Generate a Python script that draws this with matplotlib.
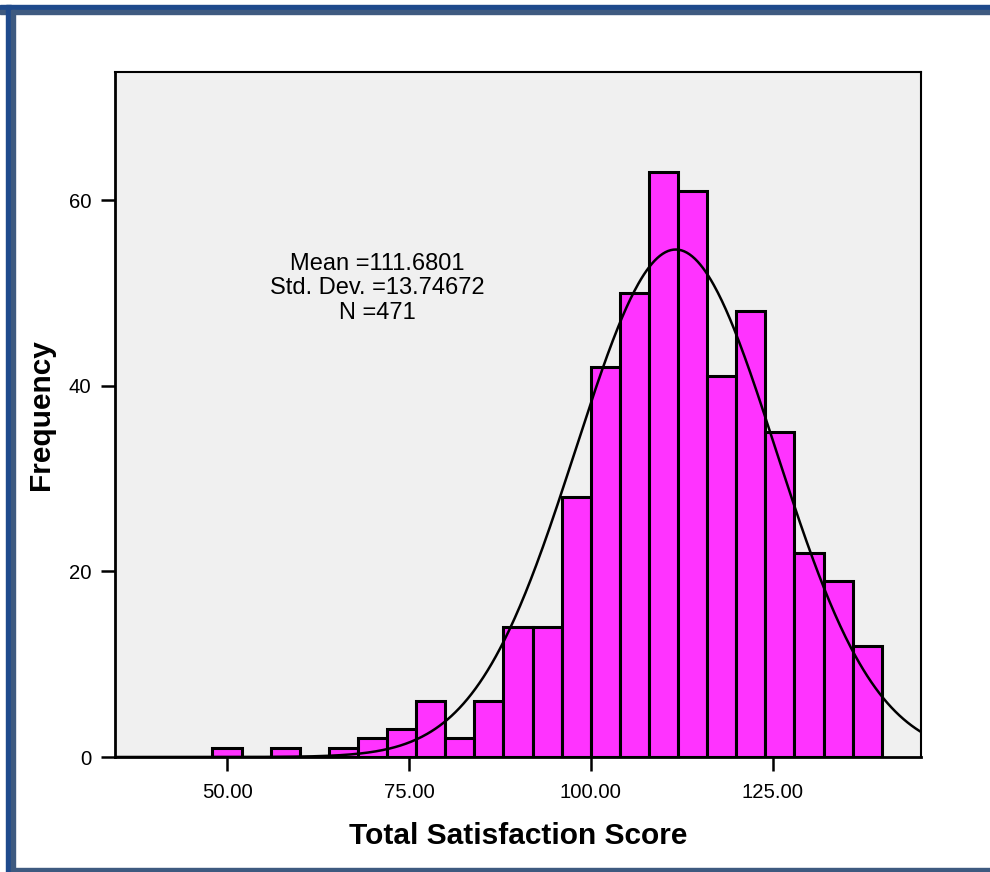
import numpy as np
import matplotlib
matplotlib.use("Agg")
import matplotlib.pyplot as plt
from matplotlib.patches import Rectangle

plt.rcParams['font.family'] = ['Liberation Sans', 'DejaVu Sans']

# Histogram bins (width 4) and counts
bin_edges = [48, 52, 56, 60, 64, 68, 72, 76, 80, 84, 88, 92, 96, 100,
             104, 108, 112, 116, 120, 124, 128, 132, 136, 140]
counts = [1, 0, 1, 0, 1, 2, 3, 6, 2, 6, 14, 14, 28, 42,
          50, 63, 61, 41, 48, 35, 22, 19, 12]

mean_val = 111.6801
std_val = 13.74672
n_val = 471

x_ticks = [50, 75, 100, 125]
x_tick_labels = ["50.00", "75.00", "100.00", "125.00"]
y_ticks = [0, 20, 40, 60]

fig = plt.figure(figsize=(9.9, 8.72), dpi=100)
W, H = 990, 872

# Outer frame: blue band with slate inner edge
def band(x0, y0, x1, y1, color):
    fig.patches.append(Rectangle((x0 / W, 1 - y1 / H), (x1 - x0) / W, (y1 - y0) / H,
                                 transform=fig.transFigure, color=color, zorder=0))

band(0, 5, W, 10, '#1F4A8C')
band(0, 10, W, 14, '#3E5A80')
band(6, 5, 11, H, '#1F4A8C')
band(11, 10, 15, H, '#3E5A80')
band(11, 868, W, H, '#3E5A80')

ax = fig.add_axes([115 / W, 1 - 757 / H, (921 - 115) / W, (757 - 72) / H])
ax.set_facecolor('#F0F0F0')

widths = np.diff(bin_edges)
ax.bar(bin_edges[:-1], counts, width=widths, align='edge',
       color='#FF33FF', edgecolor='black', linewidth=2.2, zorder=2)

xmin, xmax = 34.6, 145.4
ax.set_xlim(xmin, xmax)
ax.set_ylim(0, 73.8)

# Normal curve scaled to counts
xs = np.linspace(xmin, xmax, 600)
bw = bin_edges[1] - bin_edges[0]
ys = n_val * bw / (std_val * np.sqrt(2 * np.pi)) * np.exp(-0.5 * ((xs - mean_val) / std_val) ** 2)
ax.plot(xs, ys, color='black', linewidth=1.8, zorder=3)

ax.set_xticks(x_ticks)
ax.set_xticklabels(x_tick_labels)
ax.set_yticks(y_ticks)
ax.tick_params(axis='both', direction='out', length=10, width=1.8, labelsize=14.6, pad=7)
ax.tick_params(axis='x', pad=9)

for side in ['left', 'bottom', 'top', 'right']:
    ax.spines[side].set_linewidth(1.5)
ax.spines['left'].set_linewidth(2.0)
ax.spines['bottom'].set_linewidth(2.0)

ax.set_xlabel('Total Satisfaction Score', fontsize=21.5, fontweight='bold', labelpad=14)
ax.set_ylabel('Frequency', fontsize=21.5, fontweight='bold', labelpad=10)

ax.text(70.6, 50.5, f"Mean ={mean_val}\nStd. Dev. ={std_val}\nN ={n_val}",
        ha='center', va='center', fontsize=17, linespacing=1.15, zorder=4)

fig.savefig('out.png', dpi=100, facecolor='white')
